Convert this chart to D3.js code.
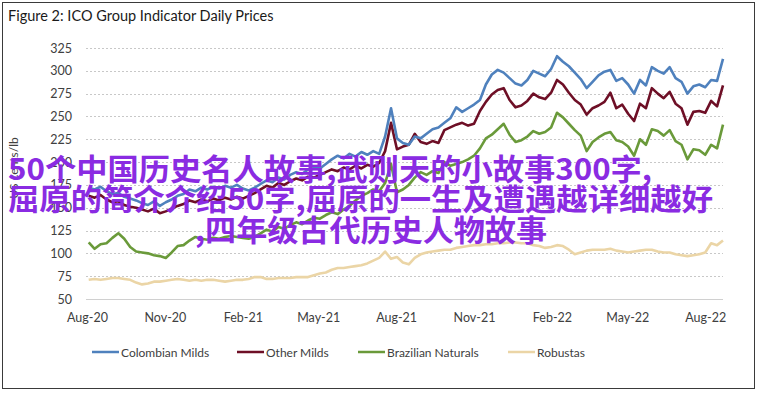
<!DOCTYPE html>
<html>
<head>
<meta charset="utf-8">
<script src="https://cdn.jsdelivr.net/npm/d3@7/dist/d3.min.js"></script>
<style>
  html, body { margin: 0; padding: 0; background: #fff; }
  svg { display: block; }
</style>
</head>
<body>
<svg id="chart" width="758" height="393"></svg>
<script>
// ---------- DATA (weekly, from 2020-08-03) ----------
const startDate = "2020-08-03";
const colombianMilds = [172,170,173,168,165,166,162,160,158,155,153,157,152,156,159,163,165,170,168,172,170,173,171,174,172,175,171,169,172,176,180,178,183,181,186,189,187,192,195,193,198,203,207,204,209,206,211,208,212,209,228,259,226,221,219,228,226,231,236,238,243,248,260,255,259,263,268,285,296,301,298,292,286,284,290,300,297,294,302,316,310,305,298,291,281,288,295,299,301,289,292,285,275,290,284,304,300,297,304,292,288,275,283,285,282,290,289,313];
const otherMilds = [163,161,164,159,156,157,153,151,150,148,146,149,144,146,149,152,154,158,156,159,157,160,158,161,159,162,160,163,166,170,174,172,177,175,179,182,180,184,183,186,189,192,190,194,192,196,193,197,195,199,212,243,214,217,219,231,222,220,223,221,235,238,241,243,240,242,256,266,274,279,281,268,260,262,267,275,271,269,276,290,285,276,268,263,252,259,262,266,276,259,263,253,245,264,259,281,275,270,277,264,259,241,255,256,254,267,261,284];
const brazilianNaturals = [112,105,110,111,117,122,116,107,102,101,100,98,97,95,101,108,109,114,118,116,115,117,116,118,119,118,117,116,118,122,126,124,129,127,131,134,132,136,139,138,142,145,143,148,152,158,163,166,170,168,177,198,167,170,175,183,189,186,190,188,200,196,198,200,203,207,215,226,230,236,242,230,222,224,228,234,231,233,238,254,249,242,235,229,212,222,227,231,233,224,222,217,207,225,219,236,234,229,235,223,219,203,214,213,208,219,215,241];
const robustas = [71,72,71,72,73,73,72,71,68,66,67,69,69,70,71,72,71,70,71,70,71,71,70,69,70,71,71,72,74,74,72,72,73,73,73,74,74,74,76,78,79,82,84,84,85,86,87,89,92,95,102,94,96,90,88,95,99,101,102,103,104,104,106,107,108,109,109,110,110,111,111,112,112,111,111,109,108,106,107,109,108,104,99,101,103,104,104,104,105,103,102,101,102,103,104,104,102,101,101,99,98,97,98,99,101,111,109,114];

const seriesNames = ["Colombian Milds", "Other Milds", "Brazilian Naturals", "Robustas"];
const seriesColors = ["#4f81bd", "#6e0f26", "#6a9a3a", "#ebd5a6"];
const seriesValues = [colombianMilds, otherMilds, brazilianNaturals, robustas];

const yTicks = [50,75,100,125,150,175,200,225,250,275,300,325];
const xTickLabels = ["Aug-20","Nov-20","Feb-21","May-21","Aug-21","Nov-21","Feb-22","May-22","Aug-22"];
const titleText = "Figure 2: ICO Group Indicator Daily Prices";
const yTitle = "US cents/lb";
const overlayLines = ["50个中国历史名人故事,武则天的小故事300字,", "屈原的简介介绍50字,屈原的一生及遭遇越详细越好", ",四年级古代历史人物故事"];

// ---------- CHART ----------
const svg = d3.select("#chart");
const font = "Lato, 'Open Sans', sans-serif";
const parse = d3.utcParse("%Y-%m-%d");
const t0 = parse(startDate);
const dates = colombianMilds.map((_, i) => d3.utcDay.offset(t0, 7 * i));
const tickDates = xTickLabels.map(s => d3.utcParse("%b-%y")(s));

const x = d3.scaleUtc()
  .domain([parse("2020-08-01"), parse("2022-08-22")])
  .range([87, 723]);
const y = d3.scaleLinear().domain([50, 325]).range([299, 48]);

// frame
svg.append("rect").attr("x", 2.5).attr("y", 2.5).attr("width", 752).attr("height", 386)
  .attr("fill", "#fff").attr("stroke", "#3a3a3a").attr("stroke-width", 1);

// title
svg.append("text").attr("x", 8).attr("y", 21).text(titleText)
  .attr("font-family", font).attr("font-size", 14.5).attr("fill", "#1a1a1a");

// grid lines
svg.append("g").selectAll("line").data(yTicks.filter(d => d > 50)).join("line")
  .attr("x1", 86).attr("x2", 723)
  .attr("y1", d => Math.round(y(d)) + 0.5).attr("y2", d => Math.round(y(d)) + 0.5)
  .attr("stroke", "#c8c8c8").attr("stroke-width", 1).attr("stroke-dasharray", "2,2");

// baseline
svg.append("line").attr("x1", 86).attr("x2", 723).attr("y1", y(50) + 0.5).attr("y2", y(50) + 0.5)
  .attr("stroke", "#d0d0d0").attr("stroke-width", 1);

// y axis labels
const yAxis = d3.axisLeft(y).tickValues(yTicks).tickSize(0).tickPadding(0);
const gy = svg.append("g").attr("transform", "translate(72,0)").call(yAxis);
gy.select(".domain").remove();
gy.selectAll("text").attr("font-family", font).attr("font-size", 12.5).attr("fill", "#404040");

// x axis labels
const xAxis = d3.axisBottom(x).tickValues(tickDates).tickFormat((d, i) => xTickLabels[i]).tickSize(0).tickPadding(0);
const gx = svg.append("g").attr("transform", "translate(0,313)").call(xAxis);
gx.select(".domain").remove();
gx.selectAll("text").attr("font-family", font).attr("font-size", 12.5).attr("fill", "#404040");

// y title
svg.append("text").attr("transform", "translate(18,168) rotate(-90)")
  .attr("text-anchor", "middle").text(yTitle)
  .attr("font-family", font).attr("font-size", 12).attr("fill", "#404040");

// lines (draw robustas first, colombian last)
const line = d3.line().x((d, i) => x(dates[i])).y(d => y(d)).curve(d3.curveLinear);
const order = [3, 2, 1, 0];
svg.append("g").selectAll("path").data(order).join("path")
  .attr("d", k => line(seriesValues[k]))
  .attr("fill", "none").attr("stroke", k => seriesColors[k])
  .attr("stroke-width", 2.6).attr("stroke-linejoin", "round");

// legend
const legendX = [92, 237, 358, 508];
const lg = svg.append("g").selectAll("g").data(seriesNames).join("g")
  .attr("transform", (d, i) => `translate(${legendX[i]},352)`);
lg.append("line").attr("x1", 0).attr("x2", 27).attr("y1", 0).attr("y2", 0)
  .attr("stroke", (d, i) => seriesColors[i]).attr("stroke-width", 2.5);
lg.append("text").attr("x", 29).attr("y", 4.5).text(d => d)
  .attr("font-family", font).attr("font-size", 12).attr("fill", "#404040");

// overlay text
const ov = [{x: 8, y: 180, w: 644}, {x: 8, y: 210, w: 705}, {x: 195, y: 241, w: 352}];
svg.append("g").selectAll("text").data(overlayLines).join("text")
  .attr("x", (d, i) => ov[i].x).attr("y", (d, i) => ov[i].y)
  .attr("textLength", (d, i) => ov[i].w).attr("lengthAdjust", "spacingAndGlyphs")
  .text(d => d)
  .attr("font-family", "'Noto Sans CJK SC', sans-serif").attr("font-weight", "bold")
  .attr("font-size", 30).attr("fill", "#8a2be2");
</script>
</body>
</html>
